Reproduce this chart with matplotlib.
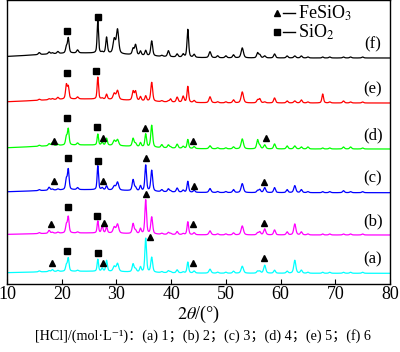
import numpy as np
import matplotlib
matplotlib.use('Agg')
import matplotlib.pyplot as plt

plt.rcParams['font.family'] = ['Liberation Serif', 'DejaVu Serif', 'Noto Sans CJK SC']
plt.rcParams['mathtext.fontset'] = 'stix'

# ---- data -----------------------------------------------------------------
# diffraction peak positions (2theta, deg) and widths shared by all patterns
peak_pos = [15.9, 17.7, 18.3, 19.3, 20.85, 21.2, 22.9, 26.6, 27.4, 28.2,
            29.6, 30.2, 33.05, 33.5, 34.4, 35.35, 36.45, 38.3, 39.5, 39.9,
            41.1, 42.2, 43.05, 44.2, 47.1, 48.5, 50.0, 51.4, 53.0, 55.8,
            56.2, 57.1, 58.9, 61.2, 62.6, 63.8, 65.0, 67.7, 69.0, 71.5,
            72.8, 75.0]
peak_fwhm = [0.4, 0.4, 0.4, 0.4, 0.35, 0.35, 0.4, 0.3, 0.35, 0.35,
             0.5, 0.5, 0.4, 0.4, 0.35, 0.35, 0.4, 0.4, 0.4, 0.35,
             0.4, 0.4, 0.35, 0.4, 0.45, 0.4, 0.4, 0.4, 0.5, 0.4,
             0.4, 0.45, 0.4, 0.4, 0.45, 0.4, 0.4, 0.35, 0.4, 0.4,
             0.4, 0.4]

# relative peak intensities of each sample (a)-(f)
h_a = [1, 1, 2, 1, 6, 13, 1, 12, 3, 11, 5, 8, 8, 3, 5, 34, 15, 1, 2, 1,
       3, 1, 11, 2, 4, 1, 1, 2, 7, 2, 2, 8, 3, 2, 13, 3, 1, 1, 1, 1, 1, 1]
h_b = [1, 3, 1, 1, 8, 16, 1, 12, 7, 6, 6, 9, 10, 3, 5, 34, 17, 1, 2, 1,
       3, 1, 13, 2, 4, 1, 1, 2, 9, 2, 3, 6, 5, 3, 11, 3, 1, 1, 1, 1, 1, 1]
h_c = [1, 3, 1, 1, 10, 20, 2, 24, 2, 4, 4, 8, 11, 3, 5, 26, 21, 2, 3, 1,
       4, 2, 11, 2, 4, 1, 1, 3, 9, 2, 3, 5, 5, 3, 7, 3, 1, 1, 1, 2, 1, 1]
h_d = [1, 2, 3, 1, 8, 16, 2, 11, 3, 7, 5, 6, 8, 3, 4, 13, 22, 3, 3, 1,
       4, 2, 9, 2, 3, 1, 1, 2, 10, 9, 3, 4, 5, 3, 3, 2, 2, 1, 1, 2, 2, 1]
h_e = [1, 1, 1, 2, 14, 12, 2, 22, 1, 5, 6, 9, 9, 9, 4, 5, 19, 1, 1, 3,
       5, 6, 16, 2, 6, 1, 1, 3, 11, 3, 4, 1, 5, 2, 2, 3, 1, 9, 1, 2, 1, 1]
h_f = [2, 2, 1, 2, 6, 15, 3, 32, 1, 16, 14, 24, 6, 10, 4, 5, 15, 1, 6, 0,
       3, 3, 28, 3, 6, 2, 2, 3, 10, 5, 3, 2, 4, 2, 2, 2, 1, 1, 1, 1, 1, 1]
heights = [h_a, h_b, h_c, h_d, h_e, h_f]

series_labels = ['(a)', '(b)', '(c)', '(d)', '(e)', '(f)']
series_colors = ['#00FFFF', '#FF00FF', '#0000FF', '#00FF00', '#FF0000', '#000000']
base_levels = [11.2, 49.5, 91.8, 135.5, 181.5, 226.5]   # vertical offsets of the stacked patterns
hump_amp = [2, 2, 3, 4, 4, 5]                           # amorphous background

# phase markers: positions (2theta) and heights above each pattern's baseline
sq_x = [[20.9, 26.6], [21.1, 26.5], [21.1, 26.7], [20.9, 26.5], [20.9, 26.3], [21.0, 26.6]]
sq_h = [[22.3, 20], [27.7, 19.3], [34.4, 32], [31, 22], [30, 32], [27, 41]]
tri_x = [[18.2, 27.5, 36.1, 44.0, 57.0],
         [18.0, 27.7, 35.35, 43.95, 57.0],
         [18.5, 27.6, 35.4, 44.2, 57.0],
         [18.5, 27.5, 35.2, 44.05, 57.3],
         [], []]
tri_h = [[10, 10, 36.6, 10, 15.6],
         [11, 11.7, 41, 10.7, 12.3],
         [11.7, 11.7, 34.4, 7, 11],
         [8, 11, 21, 7.5, 11],
         [], []]

legend_names = ['FeSiO$_3$', 'SiO$_2$']
legend_markers = ['^', 's']

xticks = [10, 20, 30, 40, 50, 60, 70, 80]

# ---- figure -----------------------------------------------------------------
fig = plt.figure(figsize=(4.0, 3.52), dpi=100)
ax = fig.add_axes([0.0175, 0.1918, 0.9575, 0.8068])

tt = np.arange(10, 80.001, 0.04)
pos = np.array(peak_pos)[:, None]
fw = np.array(peak_fwhm)[:, None]
lor = 1.0 / (1.0 + ((tt - pos) / (fw / 2)) ** 2)
gau = np.exp(-4 * np.log(2) * ((tt - pos) / fw) ** 2)
shape = 0.5 * lor + 0.5 * gau

for i in range(6):
    hts = np.array(heights[i])[:, None]
    y = base_levels[i] + hump_amp[i] * np.exp(-((tt - 24) / 13) ** 2) + (hts * shape).sum(axis=0)
    ax.plot(tt, y, color=series_colors[i], lw=0.9)
    if sq_x[i]:
        ax.plot(sq_x[i], base_levels[i] + np.array(sq_h[i]), ls='none', marker='s',
                ms=4.3, color='black')
    if tri_x[i]:
        ax.plot(tri_x[i], base_levels[i] + np.array(tri_h[i]), ls='none', marker='^',
                ms=5, color='black')
    ax.text(76.9, base_levels[i] + 14, series_labels[i], fontsize=12,
            ha='center', va='center')

ax.set_xlim(10, 80)
ax.set_ylim(0, 284)
ax.set_yticks([])
ax.set_xticks(xticks)
ax.tick_params(axis='x', direction='in', length=3.5, width=0.8, pad=1, labelsize=13)
for s in ax.spines.values():
    s.set_linewidth(1.0)

# legend drawn by hand: marker, dash, text
leg_y = [271.2, 252.5]
for k in range(2):
    ax.plot([59.35], [leg_y[k]], marker=legend_markers[k], ms=4.5 if k == 0 else 4,
            color='black', ls='none')
    ax.plot([60.4, 62.7], [leg_y[k], leg_y[k]], color='black', lw=1.0)
    ax.text(63.2, leg_y[k], legend_names[k], fontsize=13, ha='left', va='center')

fig.text(0.497, 0.108, r'$\mathit{2\theta}$/(°)', fontsize=13, ha='center', va='center')
fig.text(0.5075, 0.044, '[HCl]/(mol·L⁻¹)：(a) 1；(b) 2；(c) 3；(d) 4；(e) 5；(f) 6',
         fontsize=10.2, ha='center', va='center')

fig.savefig('out.png', dpi=100)
